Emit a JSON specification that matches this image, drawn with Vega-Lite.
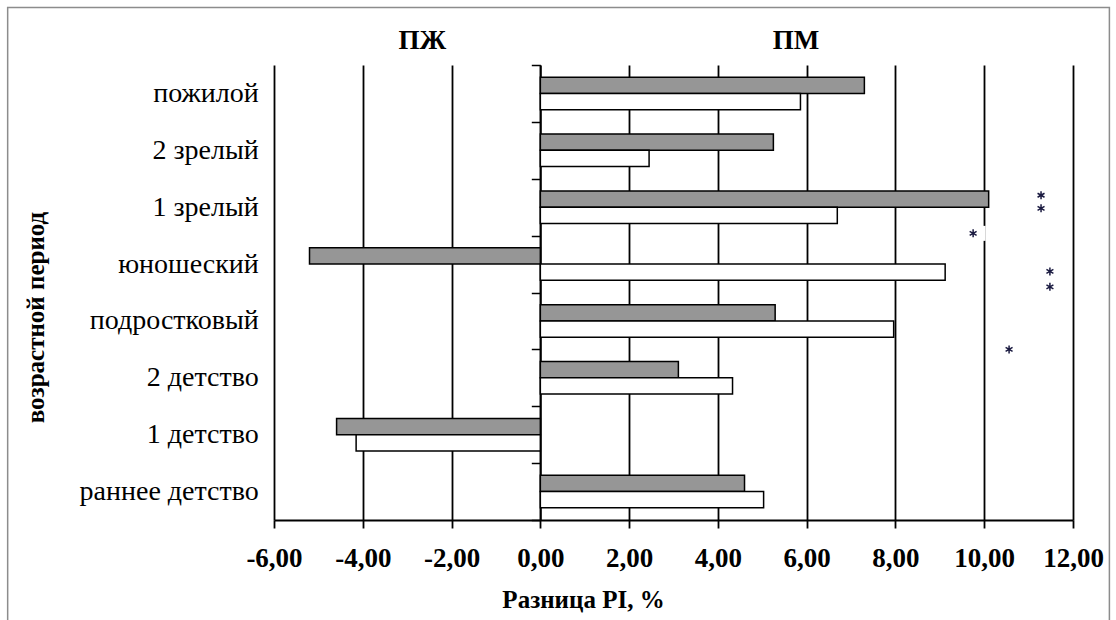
{
  "$schema": "https://vega.github.io/schema/vega-lite/v6.json",
  "width": 799,
  "height": 455,
  "autosize": {"type": "none"},
  "padding": {"left": 274, "top": 65, "right": 43, "bottom": 100},
  "background": "white",
  "config": {
    "view": {"stroke": null},
    "font": "Times New Roman, Liberation Serif, serif"
  },
  "datasets": {
    "bars": [
      {"period": "пожилой", "series": "A", "value": 7.30},
      {"period": "пожилой", "series": "B", "value": 5.86},
      {"period": "2 зрелый", "series": "A", "value": 5.25},
      {"period": "2 зрелый", "series": "B", "value": 2.45},
      {"period": "1 зрелый", "series": "A", "value": 10.10},
      {"period": "1 зрелый", "series": "B", "value": 6.69},
      {"period": "юношеский", "series": "A", "value": -5.20},
      {"period": "юношеский", "series": "B", "value": 9.12},
      {"period": "подростковый", "series": "A", "value": 5.29},
      {"period": "подростковый", "series": "B", "value": 7.96},
      {"period": "2 детство", "series": "A", "value": 3.11},
      {"period": "2 детство", "series": "B", "value": 4.33},
      {"period": "1 детство", "series": "A", "value": -4.59},
      {"period": "1 детство", "series": "B", "value": -4.15},
      {"period": "раннее детство", "series": "A", "value": 4.60},
      {"period": "раннее детство", "series": "B", "value": 5.03}
    ],
    "stars": [
      {"value": 11.28, "level": 5.71},
      {"value": 11.28, "level": 5.48},
      {"value": 9.75, "level": 5.04},
      {"value": 11.48, "level": 4.37},
      {"value": 11.48, "level": 4.10},
      {"value": 10.56, "level": 3.00}
    ],
    "headers": [
      {"label": "ПЖ", "value": -2.66, "level": 8.42},
      {"label": "ПМ", "value": 5.76, "level": 8.42}
    ]
  },
  "layer": [
    {
      "data": {"name": "bars"},
      "mark": {"type": "bar", "stroke": "black", "strokeWidth": 1.5},
      "encoding": {
        "x": {
          "field": "value",
          "type": "quantitative",
          "scale": {"domain": [-6, 12], "nice": false, "zero": false},
          "axis": {
            "values": [-6, -4, -2, 0, 2, 4, 6, 8, 10, 12],
            "labelOverlap": false,
            "labelFlush": false,
            "grid": true,
            "gridColor": "black",
            "gridWidth": 1.8,
            "gridOpacity": 1,
            "domainColor": "black",
            "domainWidth": 1.8,
            "tickColor": "black",
            "tickWidth": 1.8,
            "tickSize": 8,
            "labelFont": "Times New Roman, Liberation Serif, serif",
            "labelFontWeight": "bold",
            "labelFontSize": 27,
            "labelColor": "black",
            "labelPadding": 17,
            "labelBaseline": "top",
            "labelExpr": "(datum.value < 0 ? '-' : '') + replace(format(abs(datum.value), '.2f'), '.', ',')",
            "title": "Разница PI, %",
            "titleFont": "Times New Roman, Liberation Serif, serif",
            "titleFontWeight": "bold",
            "titleFontSize": 25,
            "titleColor": "black",
            "titleBaseline": "top",
            "titleX": 309,
            "titleY": 67
          }
        },
        "y": {
          "field": "period",
          "type": "nominal",
          "sort": ["пожилой", "2 зрелый", "1 зрелый", "юношеский", "подростковый", "2 детство", "1 детство", "раннее детство"],
          "scale": {"paddingInner": 0, "paddingOuter": 0},
          "axis": {
            "orient": "left",
            "offset": -266.3,
            "domainColor": "black",
            "domainWidth": 1.8,
            "tickColor": "black",
            "tickWidth": 1.5,
            "tickSize": 9,
            "tickBand": "extent",
            "grid": false,
            "labelFont": "Times New Roman, Liberation Serif, serif",
            "labelFontSize": 28,
            "labelColor": "black",
            "labelPadding": 273,
            "labelLimit": 500,
            "title": "возрастной период",
            "titleFont": "Times New Roman, Liberation Serif, serif",
            "titleFontWeight": "bold",
            "titleFontSize": 25,
            "titleColor": "black",
            "titleAngle": -90,
            "titleBaseline": "middle",
            "titleX": -505,
            "titleY": 252
          }
        },
        "yOffset": {
          "field": "series",
          "type": "nominal",
          "scale": {"paddingInner": 0, "paddingOuter": 0.75}
        },
        "fill": {
          "field": "series",
          "type": "nominal",
          "scale": {"domain": ["A", "B"], "range": ["#969696", "#ffffff"]},
          "legend": null
        }
      }
    },
    {
      "data": {"values": [{}]},
      "mark": {"type": "rect", "fill": "transparent", "stroke": "#8c8c8c", "strokeWidth": 1.5},
      "encoding": {
        "x": {"datum": -12.0, "type": "quantitative", "scale": {"domain": [-6, 12], "nice": false, "zero": false}, "axis": null},
        "x2": {"datum": 12.82},
        "y": {"datum": 9.01, "type": "quantitative", "scale": {"domain": [0, 8], "nice": false, "zero": false}, "axis": null},
        "y2": {"datum": -2.5}
      }
    },
    {
      "data": {"name": "stars"},
      "mark": {"type": "point", "shape": "M-1,-0.6H1V0.6H-1Z", "filled": true, "fill": "white", "opacity": 1, "size": 625, "strokeWidth": 0},
      "encoding": {
        "x": {"field": "value", "type": "quantitative", "scale": {"domain": [-6, 12], "nice": false, "zero": false}, "axis": null},
        "y": {"field": "level", "type": "quantitative", "scale": {"domain": [0, 8], "nice": false, "zero": false}, "axis": null}
      }
    },
    {
      "data": {"name": "stars"},
      "mark": {"type": "point", "shape": "M0,-1L0,1M-0.87,-0.5L0.87,0.5M-0.87,0.5L0.87,-0.5", "filled": false, "stroke": "#1a1a40", "strokeWidth": 1.5, "opacity": 1, "size": 64},
      "encoding": {
        "x": {"field": "value", "type": "quantitative", "scale": {"domain": [-6, 12], "nice": false, "zero": false}, "axis": null},
        "y": {"field": "level", "type": "quantitative", "scale": {"domain": [0, 8], "nice": false, "zero": false}, "axis": null}
      }
    },
    {
      "data": {"name": "headers"},
      "mark": {"type": "text", "font": "Times New Roman, Liberation Serif, serif", "fontWeight": "bold", "fontSize": 27, "color": "black", "align": "center", "baseline": "middle"},
      "encoding": {
        "x": {"field": "value", "type": "quantitative", "scale": {"domain": [-6, 12], "nice": false, "zero": false}, "axis": null},
        "y": {"field": "level", "type": "quantitative", "scale": {"domain": [0, 8], "nice": false, "zero": false}, "axis": null},
        "text": {"field": "label"}
      }
    }
  ],
  "resolve": {"scale": {"y": "independent"}, "axis": {"x": "independent"}}
}
